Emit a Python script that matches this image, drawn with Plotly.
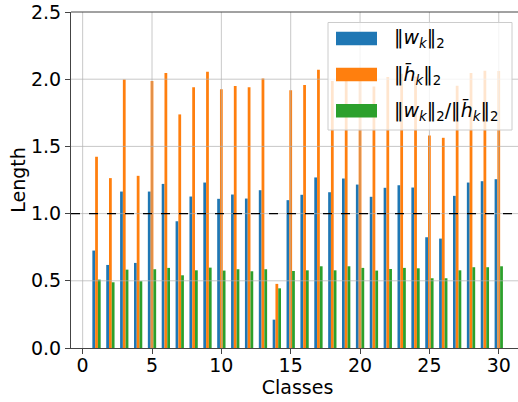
import plotly.graph_objects as go

classes = list(range(1, 31))
w_norm = [0.725, 0.618, 1.164, 0.633, 1.164, 1.221, 0.943, 1.127, 1.231, 1.110,
          1.142, 1.112, 1.174, 0.211, 1.100, 1.140, 1.269, 1.159, 1.261, 1.216,
          1.125, 1.192, 1.211, 1.194, 0.824, 0.814, 1.132, 1.231, 1.241, 1.256]
h_norm = [1.423, 1.264, 1.998, 1.281, 1.986, 2.046, 1.738, 1.941, 2.056, 1.926,
          1.949, 1.941, 2.006, 0.477, 1.917, 1.956, 2.071, 1.986, 2.070, 2.040,
          1.946, 2.016, 2.040, 2.020, 1.581, 1.564, 1.951, 2.046, 2.063, 2.061]
ratio = [0.509, 0.489, 0.583, 0.497, 0.586, 0.596, 0.541, 0.578, 0.598, 0.576,
         0.586, 0.571, 0.586, 0.444, 0.573, 0.578, 0.608, 0.578, 0.608, 0.596,
         0.576, 0.588, 0.596, 0.593, 0.519, 0.519, 0.578, 0.601, 0.601, 0.608]
x_ticks = [0, 5, 10, 15, 20, 25, 30]
y_ticks = [0.0, 0.5, 1.0, 1.5, 2.0, 2.5]

lab_w = "‖<i>w</i><sub><i>k</i></sub>‖<sub>2</sub>"
lab_h = "‖<i>h\u0304</i><sub><i>k</i></sub>‖<sub>2</sub>"
lab_r = lab_w + "/" + lab_h

colors = ["#1f77b4", "#ff7f0e", "#2ca02c"]
series = [(w_norm, lab_w), (h_norm, lab_h), (ratio, lab_r)]

font = "DejaVu Sans, Arial, sans-serif"
# the axes run a little past the right edge of the 518px window, as in the reference
W, H = 524, 402
ML, MR, MT, MB = 71, 0, 12, 54
PW, PH = W - ML - MR, H - MT - MB
spine = "#444444"


def px(xp):
    return (xp - ML) / PW


def py(yp):
    return 1 - (yp - MT) / PH


fig = go.Figure()
for (vals, lab), col in zip(series, colors):
    fig.add_trace(go.Bar(x=classes, y=vals, name=lab,
                         marker=dict(color=col, line=dict(width=0))))

# grid drawn above bars (matplotlib default for patches)
grid_col = "rgba(176,176,176,0.7)"
for xv in x_ticks:
    fig.add_shape(type="line", xref="x", yref="paper", x0=xv, x1=xv, y0=0, y1=1,
                  line=dict(color=grid_col, width=1), layer="above")
for yv in y_ticks[1:-1]:
    fig.add_shape(type="line", xref="paper", yref="y", x0=0, x1=1, y0=yv, y1=yv,
                  line=dict(color=grid_col, width=1), layer="above")

fig.add_hline(y=1.0, line=dict(color="black", dash="dash", width=1.3), layer="above")

# top spine
fig.add_shape(type="line", xref="paper", yref="paper", x0=0, x1=1, y0=1, y1=1,
              line=dict(color=spine, width=1), layer="above")

# legend (matplotlib style)
fig.add_shape(type="rect", xref="paper", yref="paper",
              x0=px(328), x1=px(512), y0=py(130), y1=py(22.5),
              fillcolor="rgba(255,255,255,0.8)", line=dict(color="#cccccc", width=1),
              layer="above")
row_y = [38.5, 74.5, 110.8]
for (vals, lab), col, ry in zip(series, colors, row_y):
    fig.add_shape(type="rect", xref="paper", yref="paper",
                  x0=px(336), x1=px(377), y0=py(ry + 6.8), y1=py(ry - 6.8),
                  fillcolor=col, line=dict(width=0), layer="above")
    fig.add_annotation(xref="paper", yref="paper", x=px(392), y=py(ry),
                       xanchor="left", yanchor="middle", text=lab, showarrow=False,
                       font=dict(family=font, size=19, color="black"))

fig.update_layout(
    width=W, height=H,
    margin=dict(l=ML, r=MR, t=MT, b=MB),
    plot_bgcolor="white", paper_bgcolor="white",
    barmode="group", bargap=0.4, bargroupgap=0,
    font=dict(family=font, size=19, color="black"),
    showlegend=False,
)
fig.update_xaxes(
    range=[-0.84, 31.82], tickvals=x_ticks, ticktext=[str(v) for v in x_ticks],
    showgrid=False, automargin=False,
    showline=True, linecolor=spine, linewidth=1, mirror=False,
    ticks="outside", ticklen=5, tickcolor=spine,
    ticklabelstandoff=-5,
    zeroline=False,
    title=dict(text="Classes", standoff=0, font=dict(size=19)),
)
fig.update_yaxes(
    range=[0, 2.5], tickvals=y_ticks, ticktext=[f"{v:.1f}" for v in y_ticks],
    showgrid=False, automargin=False,
    showline=True, linecolor=spine, linewidth=1, mirror=False,
    ticks="outside", ticklen=5, tickcolor=spine,
    zeroline=False,
    title=dict(text="Length", standoff=0, font=dict(size=19)),
)

fig.write_html(
    "out.html", config={"displayModeBar": False},
    post_script=("document.documentElement.style.overflow='hidden';"
                 "document.body.style.overflow='hidden';"
                 "document.body.style.margin='0px';document.body.style.padding='0px';"),
)
